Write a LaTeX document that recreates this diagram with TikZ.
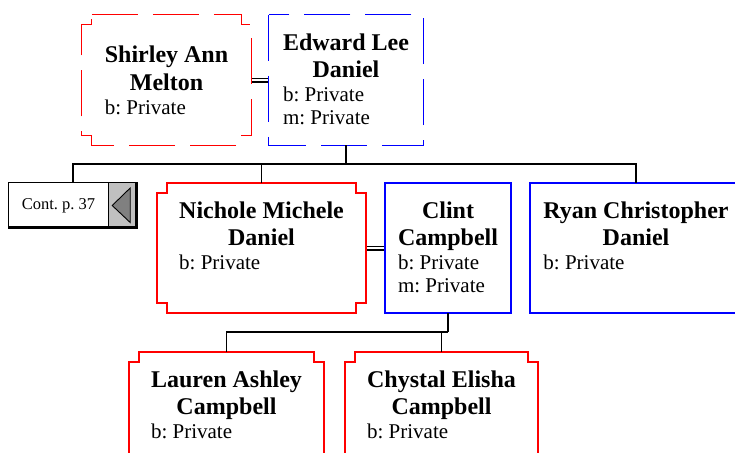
\documentclass[tikz,border=0pt]{standalone}
\usepackage{fontspec}
\setmainfont{Liberation Serif}
\frenchspacing
\newcommand\famblock[1]{{\renewcommand\arraystretch{0}\begin{tabular}{@{}c@{}}#1\end{tabular}}}
\newcommand\nmrow[1]{\fontsize{24}{27}\selectfont\bfseries\rule[-7pt]{0pt}{27pt}#1}
\newcommand\inrow[1]{\multicolumn{1}{@{}l@{}}{\fontsize{21}{23}\selectfont\rule[-6pt]{0pt}{23pt}#1}}
\newcommand\notchbox[2]{\draw[#2] ([xshift=10pt]#1.north west) -- ([xshift=-10pt]#1.north east) -- ([shift={(-10pt,-10pt)}]#1.north east) -- ([yshift=-10pt]#1.north east) -- ([yshift=10pt]#1.south east) -- ([shift={(-10pt,10pt)}]#1.south east) -- ([xshift=-10pt]#1.south east) -- ([xshift=10pt]#1.south west) -- ([shift={(10pt,10pt)}]#1.south west) -- ([yshift=10pt]#1.south west) -- ([yshift=-10pt]#1.north west) -- ([shift={(10pt,-10pt)}]#1.north west) -- cycle;}
\definecolor{lgray}{RGB}{192,192,192}
\definecolor{dgray}{RGB}{128,128,128}
\begin{document}
\begin{tikzpicture}[x=1pt,y=-1pt,
  conn/.style={line width=1.4pt},
  marr/.style={double, double distance=2.6pt, line width=1.2pt},
  boxn/.style={inner sep=0pt, minimum height=130pt},
  txt/.style={inner sep=0pt, anchor=north},
  dsh/.style={line width=1pt, dash pattern=on 46pt off 15pt},
  solidb/.style={line width=1.8pt}]
\useasboundingbox (0,0) rectangle (735,452);
\clip (0,0) rectangle (735,452);
% boxes (placement)
\node[boxn, minimum width=169pt] (shirley) at (166.5,80) {};
\node[boxn, minimum width=154pt] (edward) at (346,80) {};
\node[boxn, minimum width=209pt] (nichole) at (261.5,248) {};
\node[boxn, minimum width=126pt] (clint) at (448,248) {};
\node[boxn, minimum width=212pt] (ryan) at (636,248) {};
\node[boxn, minimum width=195pt] (lauren) at (226.5,417) {};
\node[boxn, minimum width=193pt] (chystal) at (441.5,417) {};
% marriage connectors (under the borders)
\draw[marr] (shirley.east) -- (edward.west);
\draw[marr] (nichole.east) -- (clint.west);
% borders
\notchbox{shirley}{red, dsh}
\draw[blue, dsh] (edward.north west) rectangle (edward.south east);
\notchbox{nichole}{red, solidb}
\draw[blue, solidb] (clint.north west) rectangle (clint.south east);
\draw[blue, solidb] (ryan.north west) rectangle (ryan.south east);
\notchbox{lauren}{red, solidb}
\notchbox{chystal}{red, solidb}
% texts
\node[txt] (shirleyT) at ([yshift=-28pt]shirley.north) {\famblock{\nmrow{Shirley Ann}\\ \nmrow{Melton}\\ \inrow{b: Private}}};
\node[txt] (edwardT) at ([yshift=-15pt]edward.north) {\famblock{\nmrow{Edward Lee}\\ \nmrow{Daniel}\\ \inrow{b: Private}\\ \inrow{m: Private}}};
\node[txt] (nicholeT) at ([yshift=-15pt]nichole.north) {\famblock{\nmrow{Nichole Michele}\\ \nmrow{Daniel}\\ \inrow{b: Private}}};
\node[txt] (clintT) at ([yshift=-15pt]clint.north) {\famblock{\nmrow{Clint}\\ \nmrow{Campbell}\\ \inrow{b: Private}\\ \inrow{m: Private}}};
\node[txt] (ryanT) at ([yshift=-15pt]ryan.north) {\famblock{\nmrow{Ryan Christopher}\\ \nmrow{Daniel}\\ \inrow{b: Private}}};
\node[txt] (laurenT) at ([yshift=-15pt]lauren.north) {\famblock{\nmrow{Lauren Ashley}\\ \nmrow{Campbell}\\ \inrow{b: Private}}};
\node[txt] (chystalT) at ([yshift=-15pt]chystal.north) {\famblock{\nmrow{Chystal Elisha}\\ \nmrow{Campbell}\\ \inrow{b: Private}}};
% continuation box
\node[inner sep=0pt, minimum width=128pt, minimum height=45pt] (cont) at (73,205.5) {};
\fill[lgray] ([xshift=-29pt]cont.north east) rectangle (cont.south east);
\draw[line width=1.2pt] (cont.north west) rectangle (cont.south east);
\draw[line width=1.2pt] ([xshift=-29pt]cont.north east) -- ([xshift=-29pt]cont.south east);
\draw[line width=2.6pt] ([xshift=-0.7pt]cont.north east) -- ([xshift=-0.7pt,yshift=0.7pt]cont.south east) -- ([yshift=0.7pt]cont.south west);
\node[inner sep=0pt, font=\fontsize{16.5}{18}\selectfont] (contT) at ([xshift=-14.5pt]cont.center) {Cont. p. 37};
\draw[fill=dgray, line width=0.9pt] ([xshift=-25pt]cont.east) -- ([shift={(-7pt,17.5pt)}]cont.east) -- ([shift={(-7pt,-17pt)}]cont.east) -- cycle;
% descent connectors
\coordinate (bus1) at (346,164);
\coordinate (bus2) at (448,332);
\draw[conn] (edward.south) -- (bus1);
\draw[conn] (cont.north) -- (cont.north |- bus1) -- (ryan.north |- bus1) -- (ryan.north);
\draw[conn] (nichole.north |- bus1) -- (nichole.north);
\draw[conn] (clint.south) -- (bus2);
\draw[conn] (lauren.north) -- (lauren.north |- bus2) -- (chystal.north |- bus2) -- (chystal.north);
\draw[conn] (chystal.north |- bus2) -- (bus2);
\end{tikzpicture}
\end{document}
